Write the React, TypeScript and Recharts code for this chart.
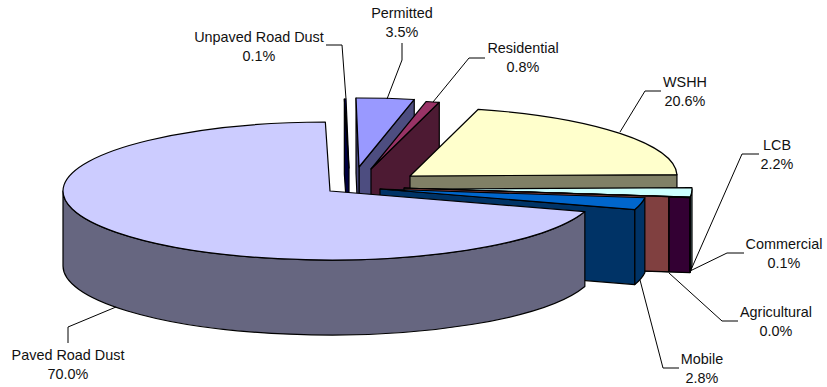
import React from 'react';
import { PieChart, Pie } from 'recharts';

// Slices in the order they go round the pie (counter-clockwise from the top)
const categories = [
    'Paved Road Dust',
    'Mobile',
    'Agricultural',
    'Commercial',
    'LCB',
    'WSHH',
    'Residential',
    'Permitted',
    'Unpaved Road Dust',
];
const shares = [70.0, 2.8, 0.04, 0.1, 2.2, 20.6, 0.8, 3.5, 0.1];

const data = categories.map((name, i) => ({ name, value: shares[i] }));

// Painted back to front, so every slice covers what is behind it
const paintOrder = [
    'Unpaved Road Dust',
    'Permitted',
    'Residential',
    'WSHH',
    'LCB',
    'Commercial',
    'Agricultural',
    'Mobile',
    'Paved Road Dust',
];

const topColors: Record<string, string> = {
    'Paved Road Dust': '#CCCCFF',
    Mobile: '#0066CC',
    Agricultural: '#FF8080',
    Commercial: '#660066',
    LCB: '#CCFFFF',
    WSHH: '#FFFFCC',
    Residential: '#993366',
    Permitted: '#9999FF',
    'Unpaved Road Dust': '#000080',
};
const wallColors: Record<string, string> = {
    'Paved Road Dust': '#666680',
    Mobile: '#003366',
    Agricultural: '#804040',
    Commercial: '#330033',
    LCB: '#668080',
    WSHH: '#808066',
    Residential: '#4D1A33',
    Permitted: '#4D4D80',
    'Unpaved Road Dust': '#000040',
};

// How far each slice is pulled out of the pie
const explode: Record<string, [number, number]> = {
    'Paved Road Dust': [0, 0],
    Mobile: [50, -2],
    Agricultural: [74, -3],
    Commercial: [95, -2],
    LCB: [95, -2],
    WSHH: [80, -15],
    Residential: [41, -22],
    Permitted: [29, -24],
    'Unpaved Road Dust': [19, -23],
};

// Label centre and leader line, by hand like the original
const labelLayout: Record<string, { x: number; y: number; leader: string }> = {
    'Paved Road Dust': { x: 68, y: 355, leader: '68,343 68,327 116,307' },
    Mobile: { x: 702, y: 359, leader: '679,368 663,368 640,280' },
    Agricultural: { x: 776, y: 312, leader: '738,321 722,321 669,273' },
    Commercial: { x: 784, y: 244, leader: '744,253 727,253 690,271' },
    LCB: { x: 777, y: 145, leader: '759,154 742,154 690,272' },
    WSHH: { x: 685, y: 82, leader: '661,91 645,91 620,132' },
    Residential: { x: 523, y: 48, leader: '485,58 469,58 433,102' },
    Permitted: { x: 402, y: 13, leader: '402,43 402,60 387,99' },
    'Unpaved Road Dust': { x: 259, y: 37, leader: '326,45 342,45 346,99' },
};

const WIDTH = 827;
const HEIGHT = 387;
const CX = 330;
const CY = 191;
const RX = 267;
const TILT = 69 / 267;
const DEPTH = 75;

const rad = (deg: number) => (deg * Math.PI) / 180;

const Slice3D = (props: any) => {
    const { name, cx, cy, outerRadius, startAngle, endAngle } = props;
    const [ox, oy] = explode[name];
    const rx = outerRadius;
    const ry = outerRadius * TILT;
    const tx = cx + ox;
    const ty = cy + oy;
    const pt = (a: number, drop = 0) => `${tx + rx * Math.cos(rad(a))},${ty - ry * Math.sin(rad(a)) + drop}`;
    const large = endAngle - startAngle > 180 ? 1 : 0;
    const top = `M${tx},${ty} L${pt(startAngle)} A${rx},${ry} 0 ${large} 0 ${pt(endAngle)} Z`;
    const face = (a: number) =>
        `M${tx},${ty} L${pt(a)} L${pt(a, DEPTH)} L${tx},${ty + DEPTH} Z`;

    // outer wall only shows on the front half of the ellipse
    const w1 = Math.max(startAngle, 180);
    const w2 = Math.min(endAngle, 360);
    const wall =
        w2 > w1
            ? `M${pt(w1)} A${rx},${ry} 0 0 0 ${pt(w2)} L${pt(w2, DEPTH)} A${rx},${ry} 0 0 1 ${pt(w1, DEPTH)} Z`
            : null;

    const common = { stroke: '#000', strokeWidth: 1.2, strokeLinejoin: 'round' as const };
    return (
        <g>
            {Math.cos(rad(startAngle)) > 0 && <path d={face(startAngle)} fill={wallColors[name]} {...common} />}
            {Math.cos(rad(endAngle)) < 0 && <path d={face(endAngle)} fill={wallColors[name]} {...common} />}
            {wall && <path d={wall} fill={wallColors[name]} {...common} />}
            <path d={top} fill={topColors[name]} {...common} />
        </g>
    );
};

const renderLabel = (props: any) => {
    const name = props.name;
    const layout = labelLayout[name];
    const textStyle = {
        fontFamily: '"Liberation Sans", Arial, sans-serif',
        fontSize: 14.4,
        fill: '#111',
    };
    return (
        <g key={name}>
            <polyline points={layout.leader} fill="none" stroke="#000" strokeWidth={1} />
            <text x={layout.x} y={layout.y} textAnchor="middle" dominantBaseline="central" style={textStyle}>
                {name}
            </text>
            <text x={layout.x} y={layout.y + 18.5} textAnchor="middle" dominantBaseline="central" style={textStyle}>
                {`${props.value.toFixed(1)}%`}
            </text>
        </g>
    );
};

const App: React.FC = () => {
    return (
        <div style={{ position: 'absolute', left: 0, top: 0, width: WIDTH, height: HEIGHT, background: '#fff' }}>
            <PieChart width={WIDTH} height={HEIGHT} margin={{ top: 0, right: 0, bottom: 0, left: 0 }}>
                {paintOrder.map((sliceName) => (
                    <Pie
                        key={sliceName}
                        data={data}
                        dataKey="value"
                        nameKey="name"
                        cx={CX}
                        cy={CY}
                        innerRadius={0}
                        outerRadius={RX}
                        startAngle={91}
                        endAngle={451}
                        stroke="none"
                        isAnimationActive={false}
                        shape={(props: any) => (props.name === sliceName ? <Slice3D {...props} /> : <g />)}
                    />
                ))}
                <Pie
                    data={data}
                    dataKey="value"
                    nameKey="name"
                    cx={CX}
                    cy={CY}
                    innerRadius={0}
                    outerRadius={RX}
                    startAngle={91}
                    endAngle={451}
                    stroke="none"
                    isAnimationActive={false}
                    shape={() => <g />}
                    label={renderLabel}
                    labelLine={false}
                />
            </PieChart>
        </div>
    );
};

export default App;
